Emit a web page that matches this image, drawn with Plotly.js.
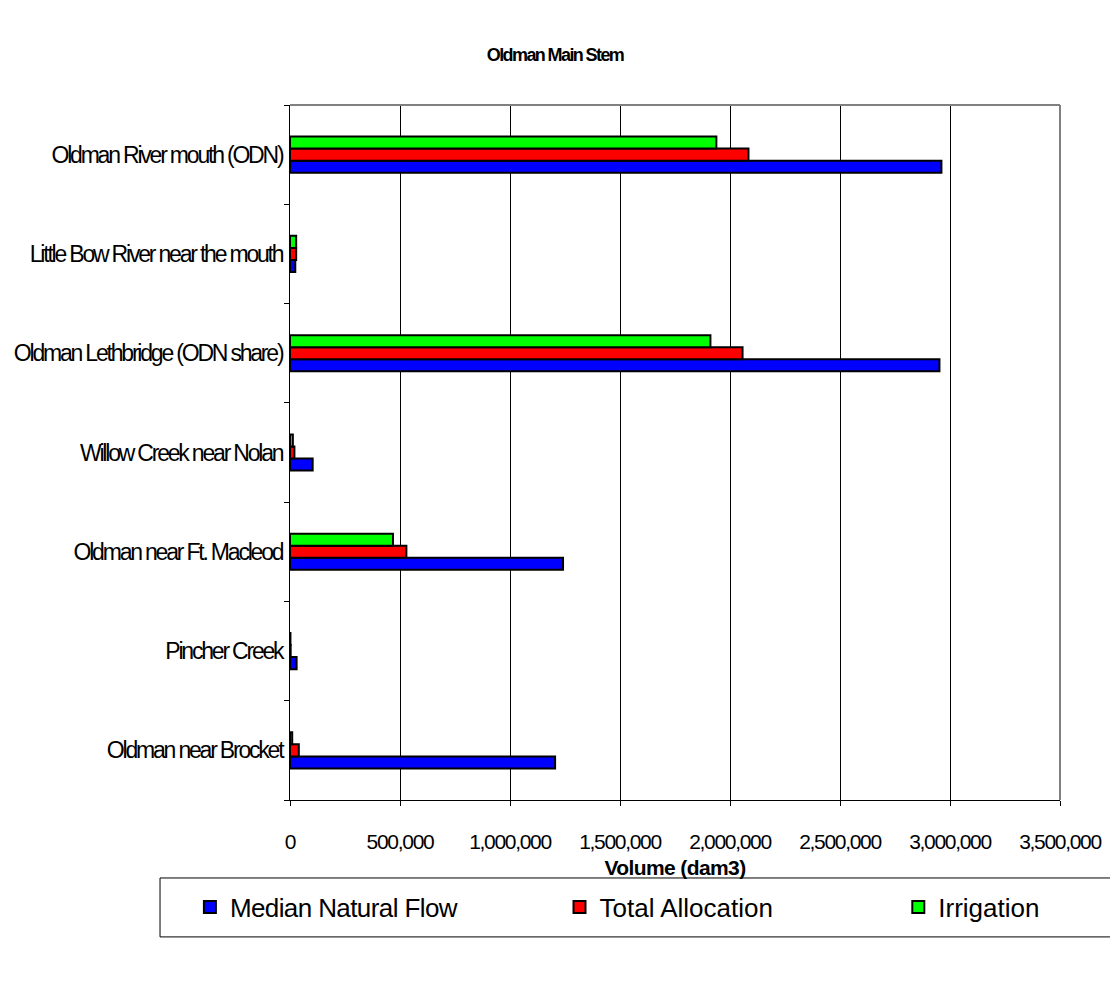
<!DOCTYPE html>
<html>
<head>
<meta charset="utf-8">
<script src="https://cdn.plot.ly/plotly-3.0.1.min.js"></script>
<style>
html,body{margin:0;padding:0;background:#fff;}
#chart .ytick text{letter-spacing:-2.2px;}
#chart .xtick text{letter-spacing:-1.3px;}
#chart .legendtext{letter-spacing:-0.6px;}
#chart .gtitle{letter-spacing:-1.6px;}
#chart .xtitle{letter-spacing:-0.6px;}
</style>
</head>
<body>
<div id="chart" style="width:1110px;height:994px;"></div>
<script>
const categories = [
  "Oldman near Brocket",
  "Pincher Creek",
  "Oldman near Ft. Macleod",
  "Willow Creek near Nolan",
  "Oldman Lethbridge (ODN share)",
  "Little Bow River near the mouth",
  "Oldman River mouth (ODN)"
];
const medianNaturalFlow = [1205000, 30000, 1241000, 103000, 2952000, 24000, 2961000];
const totalAllocation   = [40000, 3000, 529000, 20000, 2057000, 28000, 2084000];
const irrigation        = [10000, 2000, 468000, 13000, 1911000, 28000, 1938000];
const xTickVals = [0, 500000, 1000000, 1500000, 2000000, 2500000, 3000000, 3500000];
const xTickText = ["0", "500,000", "1,000,000", "1,500,000", "2,000,000", "2,500,000", "3,000,000", "3,500,000"];

const FONT = "Liberation Sans, Arial, sans-serif";
const line = {color: "#000", width: 2};

const traces = [
  {type: "bar", orientation: "h", name: "Median Natural Flow", y: categories, x: medianNaturalFlow,
   marker: {color: "#0000ff", line: line}, legend: "legend"},
  {type: "bar", orientation: "h", name: "Total Allocation", y: categories, x: totalAllocation,
   marker: {color: "#ff0000", line: line}, legend: "legend2"},
  {type: "bar", orientation: "h", name: "Irrigation", y: categories, x: irrigation,
   marker: {color: "#00ff00", line: line}, legend: "legend3"}
];

function leg(x) {
  return {orientation: "h", x: x, xanchor: "left", y: -0.154, yanchor: "middle",
          borderwidth: 0, bgcolor: "rgba(0,0,0,0)", font: {family: FONT, size: 26, color: "#000"}};
}

const layout = {
  width: 1110, height: 994,
  margin: {l: 290, r: 50, t: 105, b: 194},
  paper_bgcolor: "#fff", plot_bgcolor: "#fff",
  font: {family: FONT, color: "#000", size: 18},
  barmode: "group", bargap: 0.636, bargroupgap: 0,
  showlegend: true,
  title: {text: "<b>Oldman Main Stem</b>", x: 0.5, xref: "container", y: 0.945, yanchor: "middle",
          font: {family: FONT, size: 18, color: "#000"}},
  xaxis: {
    range: [0, 3500000], tickvals: xTickVals, ticktext: xTickText,
    showgrid: true, gridcolor: "#000", gridwidth: 1,
    showline: true, linecolor: "#000", linewidth: 1,
    ticks: "outside", ticklen: 5, tickcolor: "#000",
    ticklabelstandoff: 18,
    zeroline: false,
    tickfont: {family: FONT, size: 21},
    title: {text: "<b>Volume (dam3)</b>", standoff: 8, font: {family: FONT, size: 21}}
  },
  yaxis: {
    type: "category", categoryorder: "array", categoryarray: categories,
    showgrid: false, showline: true, linecolor: "#000", linewidth: 1,
    ticks: "outside", ticklen: 5, tickcolor: "#000", tickson: "boundaries",
    tickfont: {family: FONT, size: 23},
    ticklabelstandoff: 2
  },
  shapes: [
    {type: "line", xref: "paper", yref: "paper", x0: 0, x1: 1, y0: 1, y1: 1, line: {color: "#808080", width: 2}},
    {type: "line", xref: "paper", yref: "paper", x0: 1, x1: 1, y0: 0, y1: 1, line: {color: "#808080", width: 2}},
    {type: "rect", xref: "paper", yref: "paper", x0: -0.1688, x1: 1.1, y0: -0.197, y1: -0.1122,
     line: {color: "#000", width: 1}, fillcolor: "rgba(0,0,0,0)"}
  ],
  legend: leg(-0.13),
  legend2: leg(0.35),
  legend3: leg(0.79)
};

Plotly.newPlot("chart", traces, layout, {displayModeBar: false});
</script>
</body>
</html>
